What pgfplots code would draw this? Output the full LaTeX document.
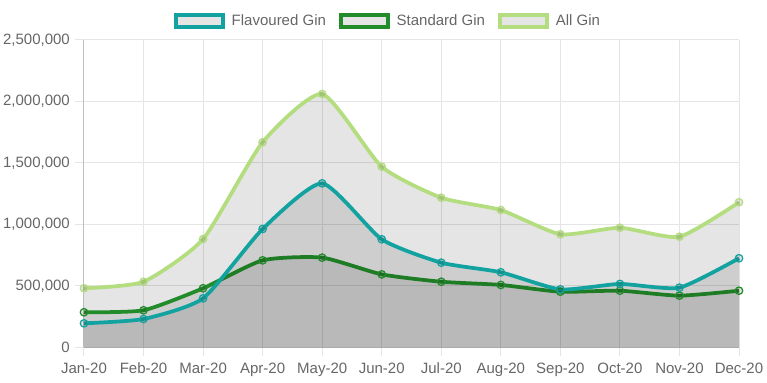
\documentclass[border=0pt]{standalone}
\usepackage{fontspec}
\setmainfont{Liberation Sans}
\usepackage{pgfplots}
\pgfplotsset{compat=1.18}
\definecolor{cFl}{HTML}{12A3A0}
\definecolor{cSt}{HTML}{228B2A}
\definecolor{cAll}{HTML}{B4DD7F}
\definecolor{tc}{HTML}{666666}
\pgfplotstableread{
x all fl st
0 480000 195000 285000
1 533000 230000 301000
2 880000 398000 480000
3 1667000 962000 707000
4 2059000 1333000 729000
5 1468000 878000 593000
6 1216000 688000 533000
7 1116000 610000 507000
8 919000 471000 452000
9 972000 515000 460000
10 899000 485000 420000
11 1179000 724000 460000
}\data
\begin{document}
\begin{tikzpicture}
\begin{axis}[
 at={(0,0)}, anchor=south west,
 scale only axis, width=655bp, height=307.5bp,
 xmin=0, xmax=11, ymin=0, ymax=2500000,
 clip=false,
 xtick={0,...,11},
 xticklabels={Jan-20,Feb-20,Mar-20,Apr-20,May-20,Jun-20,Jul-20,Aug-20,Sep-20,Oct-20,Nov-20,Dec-20},
 ytick={0,500000,1000000,1500000,2000000,2500000},
 scaled y ticks=false,
 /pgf/number format/fixed,
 /pgf/number format/1000 sep={,},
 /pgf/number format/assume math mode=true,
 every tick label/.append style={font=\fontsize{15bp}{18bp}\selectfont, text=tc},
 xticklabel style={inner sep=0pt, anchor=north, text height=11bp, text depth=0pt, yshift=-6bp},
 yticklabel style={inner sep=0pt, xshift=-5bp},
 tick align=outside, major tick length=9bp,
 tick style={black!10, line width=1bp},
 tick pos=left,
 axis line style={draw=none},
 grid=major,
 major grid style={black!10, line width=1bp},
 legend style={at={(axis description cs:0.4626,1.061)}, anchor=center, draw=none, fill=none,
   font=\fontsize{15bp}{18bp}\selectfont, text=tc, legend columns=3,
   nodes={inner sep=0pt},
   /tikz/every odd column/.append style={column sep=7bp},
   /tikz/every even column/.append style={column sep=13bp}},
 legend cell align=left,
]
\addlegendimage{legend image code/.code={\draw[line width=3.75bp, draw=cFl, fill=black, fill opacity=0.1] (0bp,-6bp) rectangle (47bp,6bp);}}
\addlegendentry{Flavoured Gin}
\addlegendimage{legend image code/.code={\draw[line width=3.75bp, draw=cSt, fill=black, fill opacity=0.1] (0bp,-6bp) rectangle (47bp,6bp);}}
\addlegendentry{Standard Gin}
\addlegendimage{legend image code/.code={\draw[line width=3.75bp, draw=cAll, fill=black, fill opacity=0.1] (0bp,-6bp) rectangle (47bp,6bp);}}
\addlegendentry{All Gin}
\draw[black!25, line width=1bp] (axis cs:0,0) -- (axis cs:11,0);
\draw[black!25, line width=1bp] (axis cs:0,0) -- (axis cs:0,2500000);
% All Gin
\addplot[forget plot, draw=none, fill=black, fill opacity=0.1, smooth, tension=0.35] table[x=x,y=all]{\data} \closedcycle;
\addplot[forget plot, cAll, line width=3.75bp, smooth, tension=0.35, mark=*, mark size=3.75bp,
  mark options={fill=black, fill opacity=0.1, draw=cAll, line width=1.25bp}] table[x=x,y=all]{\data};
% Standard
\addplot[forget plot, draw=none, fill=black, fill opacity=0.1, smooth, tension=0.35] table[x=x,y=st]{\data} \closedcycle;
\addplot[forget plot, cSt, line width=3.75bp, smooth, tension=0.35, mark=*, mark size=3.75bp,
  mark options={fill=black, fill opacity=0.1, draw=cSt, line width=1.25bp}] table[x=x,y=st]{\data};
% Flavoured
\addplot[forget plot, draw=none, fill=black, fill opacity=0.1, smooth, tension=0.35] table[x=x,y=fl]{\data} \closedcycle;
\addplot[forget plot, cFl, line width=3.75bp, smooth, tension=0.35, mark=*, mark size=3.75bp,
  mark options={fill=black, fill opacity=0.1, draw=cFl, line width=1.25bp}] table[x=x,y=fl]{\data};
\end{axis}
\pgfresetboundingbox
\path (-84bp,-35.7bp) rectangle (683bp,347.3bp);
\end{tikzpicture}
\end{document}
